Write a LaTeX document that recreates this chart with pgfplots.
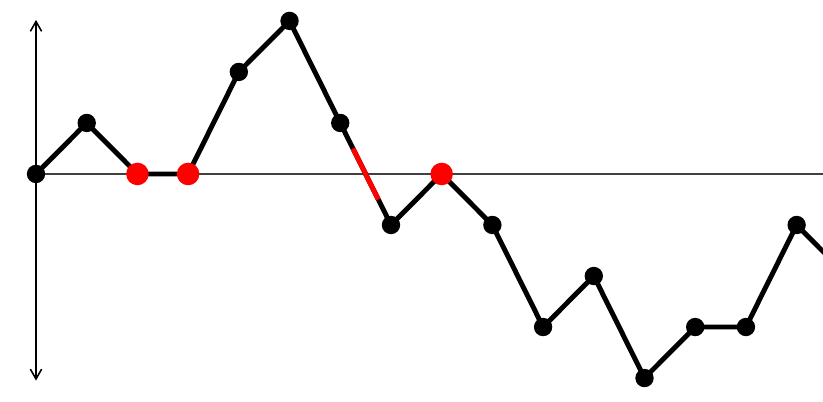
\documentclass[border=0pt]{standalone}
\usepackage{pgfplots}
\pgfplotsset{compat=1.18}
\usetikzlibrary{arrows.meta}
\begin{document}
\begin{tikzpicture}
\begin{axis}[
    width=8.23cm, height=4.01cm,
    scale only axis,
    axis line style={draw=none},
    ticks=none,
    clip=true,
    xmin=-0.71, xmax=15.52,
    ymin=-4.45, ymax=3.41,
]
    % axes
    \addplot[black!75, line width=0.45pt] coordinates {(0,0) (16,0)};
    \addplot[black, line width=0.45pt, {Straight Barb[length=2.8pt,width=3.2pt]}-{Straight Barb[length=2.8pt,width=3.2pt]}]
        coordinates {(0,3.02) (0,-4.05)};
    % walk
    \addplot[black, line width=1.4pt, mark=*, mark size=1.9pt]
        coordinates {(0,0) (1,1) (2,0) (3,0) (4,2) (5,3) (6,1) (7,-1) (8,0)
                     (9,-1) (10,-3) (11,-2) (12,-4) (13,-3) (14,-3) (15,-1) (16,-2)};
    % crossing segment
    \addplot[red, line width=1.4pt] coordinates {(6.25,0.5) (6.75,-0.5)};
    % zeros
    \addplot[only marks, mark=*, red, mark size=3pt]
        coordinates {(2,0) (3,0) (8,0)};
\end{axis}
\end{tikzpicture}
\end{document}
